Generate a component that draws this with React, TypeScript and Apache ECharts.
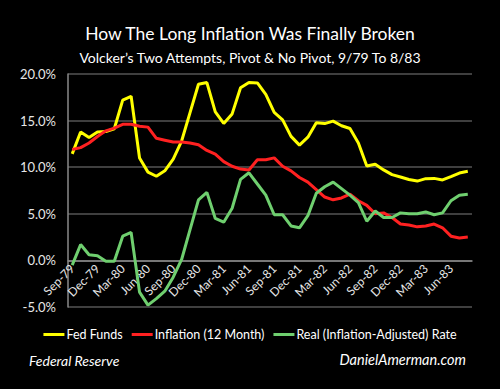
import React, { useEffect, useRef } from "react";
import * as echarts from "echarts";

const categories = [
  "Sep-79", "Oct-79", "Nov-79", "Dec-79",
  "Jan-80", "Feb-80", "Mar-80", "Apr-80", "May-80", "Jun-80", "Jul-80", "Aug-80", "Sep-80", "Oct-80", "Nov-80", "Dec-80",
  "Jan-81", "Feb-81", "Mar-81", "Apr-81", "May-81", "Jun-81", "Jul-81", "Aug-81", "Sep-81", "Oct-81", "Nov-81", "Dec-81",
  "Jan-82", "Feb-82", "Mar-82", "Apr-82", "May-82", "Jun-82", "Jul-82", "Aug-82", "Sep-82", "Oct-82", "Nov-82", "Dec-82",
  "Jan-83", "Feb-83", "Mar-83", "Apr-83", "May-83", "Jun-83", "Jul-83", "Aug-83",
];

const fedFunds = [
  11.43, 13.77, 13.18, 13.78,
  13.82, 14.13, 17.19, 17.61, 10.98, 9.47, 9.03, 9.61, 10.87, 12.81, 15.85, 18.9,
  19.08, 15.93, 14.7, 15.72, 18.52, 19.1, 19.04, 17.82, 15.87, 15.08, 13.31, 12.37,
  13.22, 14.78, 14.68, 14.94, 14.45, 14.15, 12.59, 10.12, 10.31, 9.71, 9.2, 8.95,
  8.68, 8.51, 8.77, 8.8, 8.63, 8.98, 9.37, 9.56,
];

const inflation = [
  11.9, 12.1, 12.6, 13.3,
  13.9, 14.2, 14.6, 14.6, 14.4, 14.3, 13.1, 12.9, 12.7, 12.7, 12.6, 12.4,
  11.8, 11.4, 10.6, 10.1, 9.8, 9.7, 10.8, 10.8, 11.0, 10.1, 9.6, 8.9,
  8.4, 7.6, 6.8, 6.5, 6.7, 7.1, 6.4, 5.9, 5.0, 5.1, 4.6, 3.9,
  3.8, 3.6, 3.7, 3.9, 3.5, 2.6, 2.4, 2.5,
];

const realRate = [
  -0.5, 1.7, 0.6, 0.5,
  -0.1, -0.1, 2.6, 3.0, -3.4, -4.8, -4.1, -3.3, -1.8, 0.1, 3.3, 6.5,
  7.3, 4.5, 4.1, 5.6, 8.7, 9.4, 8.2, 7.0, 4.9, 4.9, 3.7, 3.5,
  4.8, 7.2, 7.9, 8.4, 7.7, 7.0, 6.2, 4.2, 5.3, 4.6, 4.6, 5.1,
  5.0, 5.0, 5.2, 4.9, 5.1, 6.4, 7.0, 7.1,
];

const yTicks = { min: -5, max: 20, interval: 5 };

const FONT = "Lato, 'Open Sans', sans-serif";

const GRID_TOP = 74;
const GRID_BOTTOM = 82;
const CHART_H = 389;

export default function App() {
  const ref = useRef<HTMLDivElement>(null);

  useEffect(() => {
    if (!ref.current) return;
    const chart = echarts.init(ref.current, undefined, { renderer: "svg" });
    const gridH = CHART_H - GRID_TOP - GRID_BOTTOM;
    const zeroOffset = -gridH * (0 - yTicks.min) / (yTicks.max - yTicks.min);
    chart.setOption({
      animation: false,
      backgroundColor: "#000000",
      textStyle: { fontFamily: FONT },
      title: {
        text: "How The Long Inflation Was Finally Broken",
        subtext: "Volcker\u2019s Two Attempts, Pivot & No Pivot, 9/79 To 8/83",
        left: "center",
        top: 19,
        itemGap: 8,
        textStyle: { color: "#ffffff", fontSize: 17.5, fontWeight: "normal", fontFamily: FONT },
        subtextStyle: { color: "#ffffff", fontSize: 14, fontFamily: FONT },
      },
      legend: {
        top: 323,
        left: "center",
        icon: "rect",
        itemWidth: 21,
        itemHeight: 3,
        itemGap: 9,
        textStyle: { color: "#ffffff", fontSize: 12.5, fontFamily: FONT, padding: [0, 0, 0, -3] },
        data: ["Fed Funds", "Inflation (12 Month)", "Real (Inflation-Adjusted) Rate"],
      },
      grid: { left: 68, right: 28, top: GRID_TOP, bottom: GRID_BOTTOM },
      xAxis: {
        type: "category",
        data: categories,
        boundaryGap: true,
        position: "bottom",
        offset: zeroOffset,
        axisLine: { onZero: false, lineStyle: { color: "#8a8a8a", width: 1.5 } },
        axisTick: { interval: 2, length: 4, lineStyle: { color: "#8a8a8a" } },
        axisLabel: {
          interval: 2,
          rotate: 45,
          color: "#e6e6e6",
          fontSize: 12,
          fontFamily: FONT,
          margin: 6,
        },
        splitLine: { show: false },
      },
      yAxis: {
        type: "value",
        min: yTicks.min,
        max: yTicks.max,
        interval: yTicks.interval,
        axisLine: { show: true, lineStyle: { color: "#8a8a8a", width: 1.5 } },
        axisTick: { show: false },
        axisLabel: {
          color: "#e6e6e6",
          fontSize: 13,
          fontFamily: FONT,
          margin: 12,
          formatter: (v: number) => v.toFixed(1) + "%",
        },
        splitLine: { show: true, lineStyle: { color: "#555555", width: 1.5 } },
      },
      graphic: [
        {
          type: "text",
          left: 29,
          top: 353,
          style: {
            text: "Federal Reserve",
            fill: "#ffffff",
            font: `italic 14px ${FONT}`,
          },
        },
        {
          type: "text",
          right: 34,
          top: 352,
          style: {
            text: "DanielAmerman.com",
            fill: "#ffffff",
            font: `italic 14.5px ${FONT}`,
          },
        },
      ],
      series: [
        {
          name: "Fed Funds",
          type: "line",
          data: fedFunds,
          showSymbol: false,
          symbol: "none",
          lineStyle: { color: "#ffff00", width: 3 },
          itemStyle: { color: "#ffff00" },
        },
        {
          name: "Inflation (12 Month)",
          type: "line",
          data: inflation,
          showSymbol: false,
          symbol: "none",
          lineStyle: { color: "#ff2121", width: 3 },
          itemStyle: { color: "#ff2121" },
        },
        {
          name: "Real (Inflation-Adjusted) Rate",
          type: "line",
          data: realRate,
          showSymbol: false,
          symbol: "none",
          lineStyle: { color: "#6fcf6f", width: 3 },
          itemStyle: { color: "#6fcf6f" },
        },
      ],
    });
    return () => chart.dispose();
  }, []);

  return (
    <div
      ref={ref}
      style={{ position: "fixed", left: 0, top: 0, width: 500, height: 389 }}
    />
  );
}
